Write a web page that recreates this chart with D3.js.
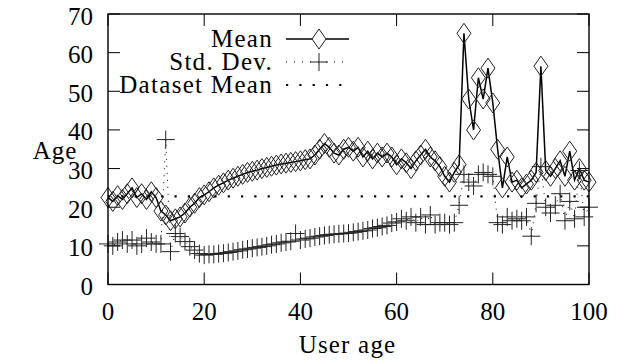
<!DOCTYPE html>
<html><head><meta charset="utf-8">
<script src="https://cdn.jsdelivr.net/npm/d3@7"></script>
<style>
html,body{margin:0;padding:0;background:#fff;}
</style></head>
<body><svg id="c" width="619" height="362"></svg>
<script>
// ---- data ----
const ages = d3.range(0, 101);
const meanAge = [22.5,21.5,23,22,23.5,25,22.5,23.5,22,24,
  22.5,19,18,16.5,17,17.5,18.5,20,21,22.5,
  23.2,24,25,25.7,26.3,27,27.5,28,28.5,29,
  29.3,29.6,30,30.3,30.6,30.9,31.2,31.4,31.6,31.8,
  32,32.3,32.5,33.5,35,36.5,35.5,34,33.5,35,
  35.5,34.5,35.5,33,34.5,32.5,34,33,34,33,
  31,32.5,31.5,30,32,33.5,35,33,32,30.5,
  28,26.5,29,31,65,48,40,53.5,48,56,
  47,35,25,33,26.5,27,25,26,27,29,
  56.5,29.5,28,30,32,28,34.5,27,30,27,26.5];
const stdAge = [10.5,10,11,11.5,10.5,11.5,10,10.5,12,11,
  10.5,10.5,37.5,8.5,13.2,12.4,11.1,9.8,8.9,8,
  7.6,7.8,7.8,8,8.1,8.3,8.5,8.7,9,9.2,
  9.4,9.6,9.8,10,10.3,10.5,10.8,11,11.2,13.2,
  11.5,11.8,12,12.3,12.5,12.7,12.9,13,13.1,13.2,
  13.3,13.5,13.7,13.9,14.1,14.5,14.7,15,15.3,15.9,
  16.2,17,16.5,17.5,16,17.5,15.5,18,15.5,16,
  16,15.5,16,20.5,28.5,26.5,25.5,28.5,29,28.5,
  28,16,15.5,17.5,16.5,17,16.5,17.5,12.5,21,
  30.5,20,18.5,20.5,23.5,16.5,21.5,17,29.5,17.5,20];
const datasetMean = 22.8;
const xTicks = [0,20,40,60,80,100];
const yTicks = [0,10,20,30,40,50,60,70];
const legendLabels = ["Mean","Std. Dev.","Dataset Mean"];

// ---- layout ----
const FONT = "'Liberation Serif', 'DejaVu Serif', serif";
const svg = d3.select("#c");
const L = 108, R = 589, T = 14, B = 284.5;
const x = d3.scaleLinear().domain([0,100]).range([L,R]);
const y = d3.scaleLinear().domain([0,70]).range([B,T]);
const tickLen = 12;

const ax = svg.append("g");
ax.selectAll(".xb").data(xTicks).join("line")
  .attr("x1",d=>x(d)).attr("x2",d=>x(d)).attr("y1",B).attr("y2",B-tickLen)
  .attr("stroke","#000").attr("stroke-width",1);
ax.selectAll(".xt").data(xTicks).join("line")
  .attr("x1",d=>x(d)).attr("x2",d=>x(d)).attr("y1",T).attr("y2",T+tickLen)
  .attr("stroke","#000").attr("stroke-width",1);
ax.selectAll(".yl").data(yTicks).join("line")
  .attr("x1",L).attr("x2",L+tickLen).attr("y1",d=>y(d)).attr("y2",d=>y(d))
  .attr("stroke","#000").attr("stroke-width",1);
ax.selectAll(".yr").data(yTicks).join("line")
  .attr("x1",R).attr("x2",R-tickLen).attr("y1",d=>y(d)).attr("y2",d=>y(d))
  .attr("stroke","#000").attr("stroke-width",1);

ax.selectAll(".xlab").data(xTicks).join("text")
  .attr("font-family",FONT)
  .attr("x",d=>x(d)).attr("y",B+35).attr("text-anchor","middle")
  .attr("font-size",25).text(d=>d);
ax.selectAll(".ylab").data(yTicks).join("text")
  .attr("font-family",FONT)
  .attr("x",L-15).attr("y",d=>y(d)+10.5).attr("text-anchor","end")
  .attr("font-size",25).text(d=>d);

svg.append("text").attr("font-family",FONT).attr("x",(L+R)/2-1).attr("y",353).attr("text-anchor","middle")
  .attr("font-size",25).attr("letter-spacing",1.2).text("User age");
svg.append("text").attr("font-family",FONT).attr("x",55).attr("y",159).attr("text-anchor","middle")
  .attr("font-size",25).attr("letter-spacing",1).text("Age");

const diamond = (cx,cy)=>`M${cx},${cy-10}L${cx+7},${cy}L${cx},${cy+10}L${cx-7},${cy}Z`;
const plus = (cx,cy)=>`M${cx-9},${cy}H${cx+9}M${cx},${cy-9}V${cy+9}`;

const meanData = ages.map((a,i)=>({a, v:meanAge[i]}));
const stdData = ages.map((a,i)=>({a, v:stdAge[i]}));
const line = d3.line().x(d=>x(d.a)).y(d=>y(d.v));

svg.append("path").datum(meanData).attr("d",line)
  .attr("fill","none").attr("stroke","#000").attr("stroke-width",1.5);
svg.append("g").selectAll("path").data(meanData).join("path")
  .attr("d",d=>diamond(x(d.a),y(d.v)))
  .attr("fill","none").attr("stroke","#222").attr("stroke-width",1);

svg.append("path").datum(stdData).attr("d",line)
  .attr("fill","none").attr("stroke","#000").attr("stroke-width",1)
  .attr("stroke-dasharray","1,6");
svg.append("g").selectAll("path").data(stdData).join("path")
  .attr("d",d=>plus(x(d.a),y(d.v)))
  .attr("fill","none").attr("stroke","#222").attr("stroke-width",1);

svg.append("line").attr("x1",x(0)).attr("x2",x(100))
  .attr("y1",y(datasetMean)).attr("y2",y(datasetMean))
  .attr("stroke","#000").attr("stroke-width",2.2).attr("stroke-dasharray","2.2,11.1");

const lg = svg.append("g");
const rows = [39, 62, 85];
const lx1 = 286, lx2 = 349, lmid = 319;
lg.selectAll("text").data(legendLabels).join("text")
  .attr("font-family",FONT)
  .attr("x",273).attr("y",(d,i)=>rows[i]+8).attr("text-anchor","end")
  .attr("font-size",25).attr("letter-spacing",1.3).text(d=>d);
lg.append("line").attr("x1",lx1).attr("x2",lx2).attr("y1",rows[0]).attr("y2",rows[0])
  .attr("stroke","#000").attr("stroke-width",1.5);
lg.append("path").attr("d",diamond(lmid,rows[0])).attr("fill","#fff").attr("stroke","#222");
lg.append("line").attr("x1",lx1).attr("x2",lx2).attr("y1",rows[1]).attr("y2",rows[1])
  .attr("stroke","#000").attr("stroke-width",1).attr("stroke-dasharray","1,7");
lg.append("path").attr("d",plus(lmid,rows[1])).attr("fill","none").attr("stroke","#222");
lg.append("line").attr("x1",lx1).attr("x2",lx2).attr("y1",rows[2]).attr("y2",rows[2])
  .attr("stroke","#000").attr("stroke-width",2.2).attr("stroke-dasharray","2.2,11.1");

svg.append("rect").attr("x",L).attr("y",T).attr("width",R-L).attr("height",B-T)
  .attr("fill","none").attr("stroke","#000").attr("stroke-width",1.4);
</script></body></html>
